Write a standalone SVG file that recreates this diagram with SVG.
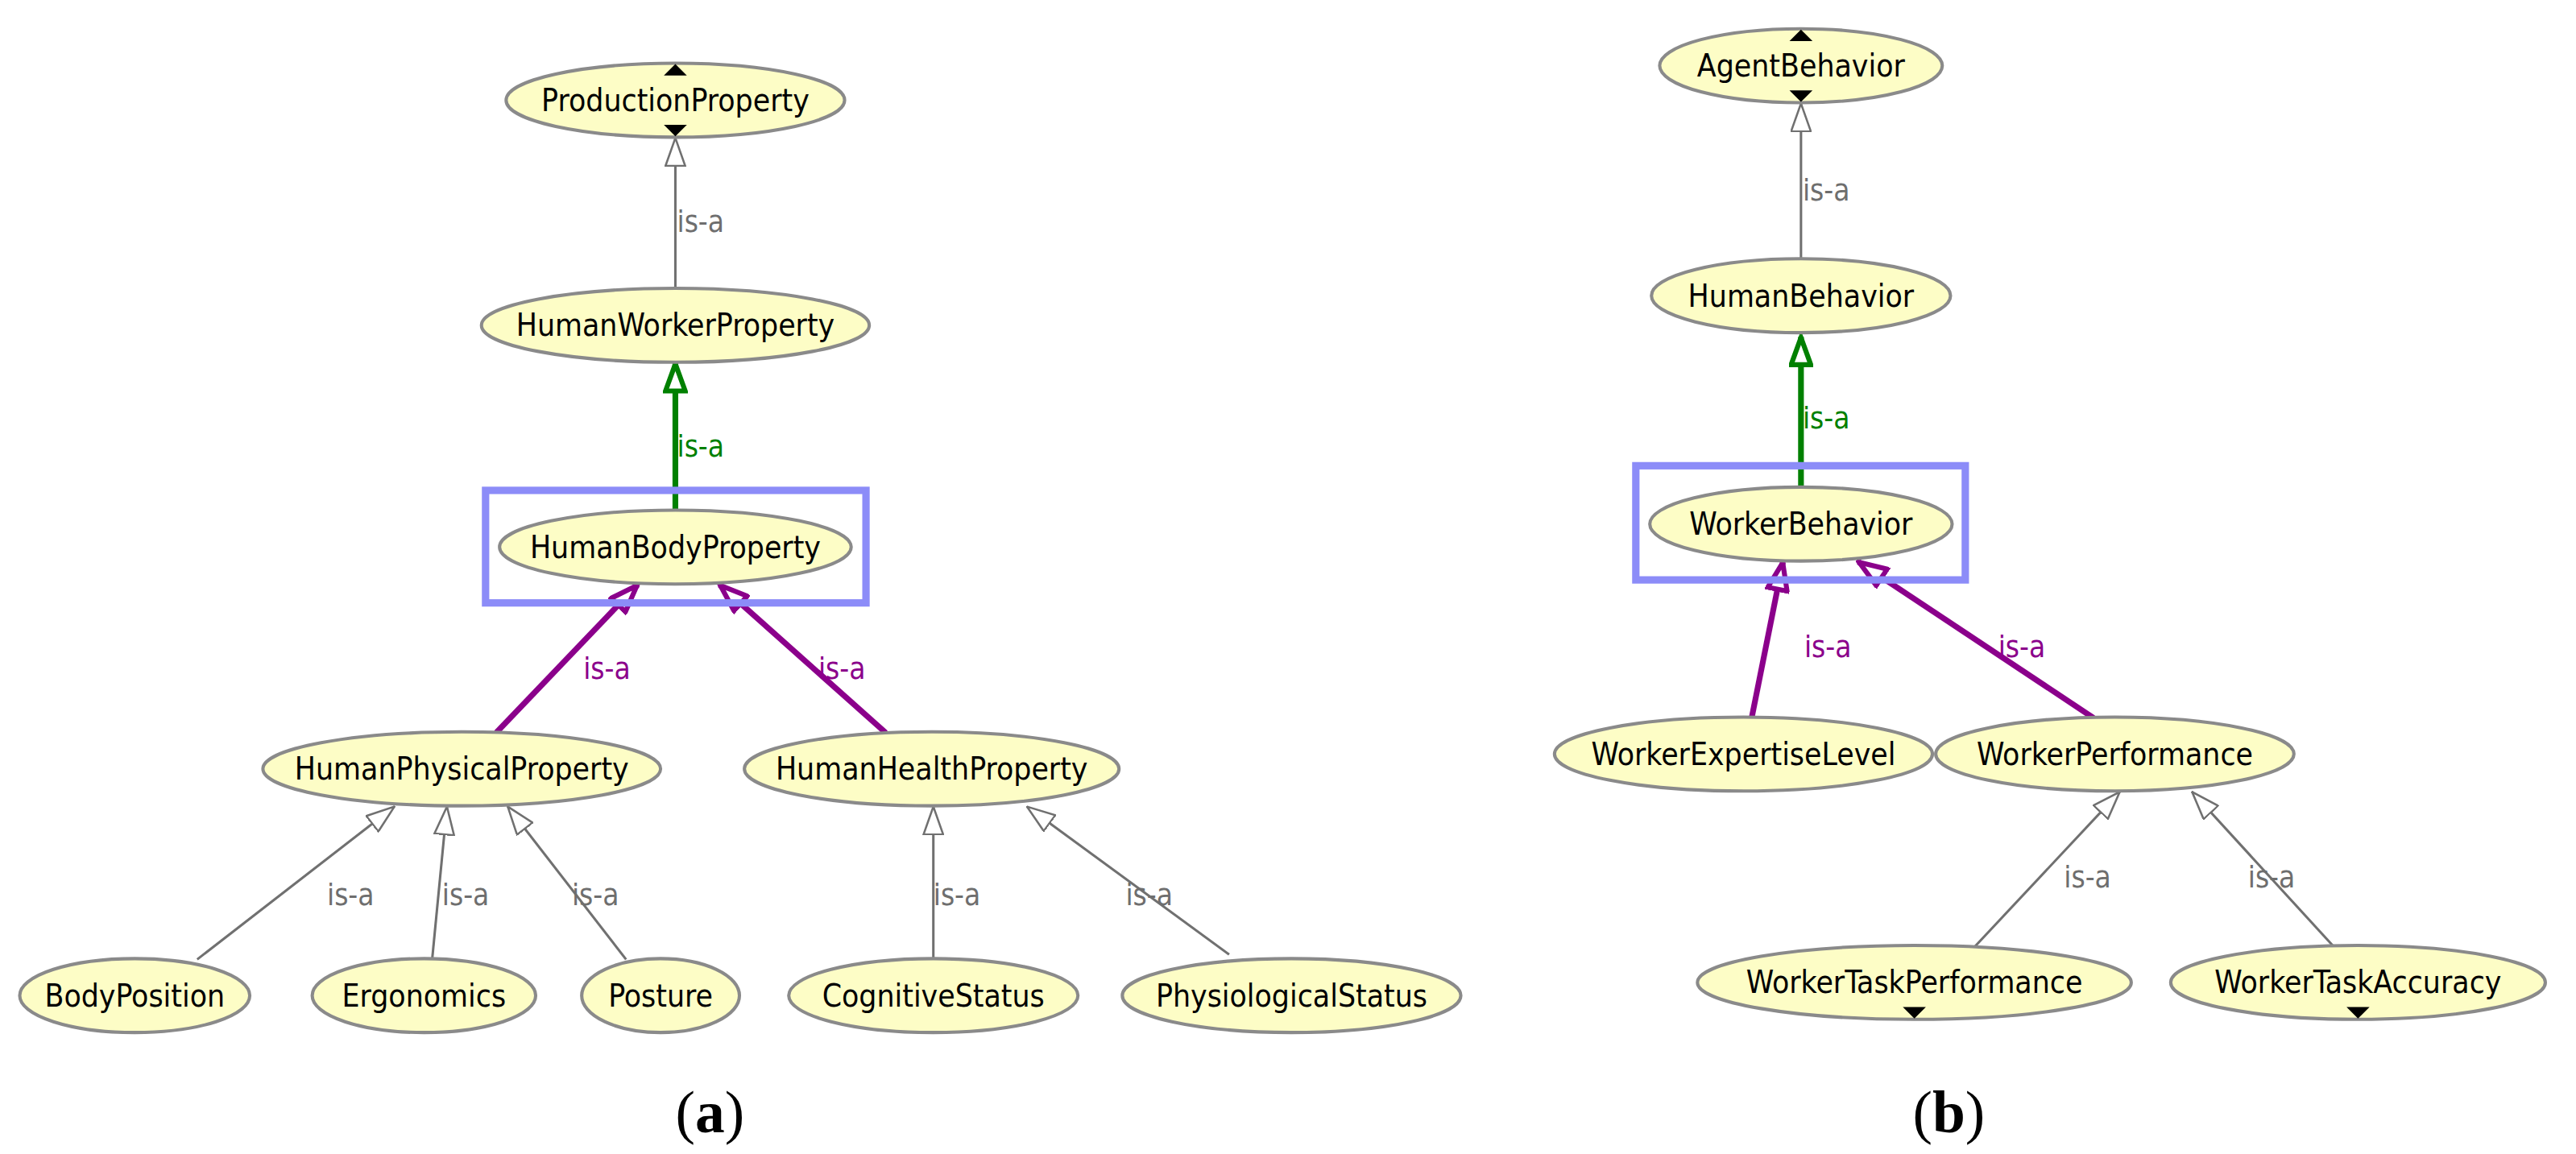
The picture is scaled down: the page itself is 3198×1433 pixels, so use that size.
<svg xmlns="http://www.w3.org/2000/svg" width="3198" height="1433" viewBox="0 0 3198 1433">
<style>
.n ellipse{fill:#fdfdc6;stroke:#8a8a8a;stroke-width:4}
.n text{font-family:"DejaVu Sans Condensed","DejaVu Sans",sans-serif;font-size:38px;fill:#000;text-anchor:middle;dominant-baseline:central}
.g{stroke:#707070;stroke-width:3;fill:none}
.gr{stroke:#008000;stroke-width:7;fill:none}
.pu{stroke:#8b008b;stroke-width:7;fill:none}
.l{font-family:"DejaVu Sans Condensed","DejaVu Sans",sans-serif;font-size:36px}
.lg{fill:#6e6e6e}.lgr{fill:#008000}.lpu{fill:#8b008b}
.box{fill:none;stroke:#8c8cf8;stroke-width:9}
.tri{fill:#000}
.cap{font-family:"Liberation Serif",serif;font-size:72px;text-anchor:middle}
</style>
<defs>
<marker id="ag" markerUnits="userSpaceOnUse" viewBox="0 0 36 26" refX="35" refY="13" markerWidth="36" markerHeight="26" orient="auto"><path d="M1,1 L35,13 L1,25 Z" fill="#fff" stroke="#707070" stroke-width="2.5"/></marker>
<marker id="agr" markerUnits="userSpaceOnUse" viewBox="0 0 40 30" refX="37" refY="15" markerWidth="40" markerHeight="30" orient="auto"><path d="M3,3 L36,15 L3,27 Z" fill="#fff" stroke="#008000" stroke-width="6"/></marker>
<marker id="apu" markerUnits="userSpaceOnUse" viewBox="0 0 40 30" refX="37" refY="15" markerWidth="40" markerHeight="30" orient="auto"><path d="M3,3 L36,15 L3,27 Z" fill="#fff" stroke="#8b008b" stroke-width="6"/></marker>
</defs>
<g transform="scale(1.02)">
<g id="connectors">
<line class="g" x1="822" y1="350" x2="822" y2="168" marker-end="url(#ag)"/>
<line class="gr" x1="822" y1="620" x2="822" y2="442" marker-end="url(#agr)"/>
<line class="pu" x1="604" y1="892" x2="776" y2="712" marker-end="url(#apu)"/>
<line class="pu" x1="1078" y1="892" x2="876" y2="712" marker-end="url(#apu)"/>
<line class="g" x1="240" y1="1168" x2="480" y2="982" marker-end="url(#ag)"/>
<line class="g" x1="526" y1="1168" x2="544" y2="982" marker-end="url(#ag)"/>
<line class="g" x1="762" y1="1168" x2="618" y2="982" marker-end="url(#ag)"/>
<line class="g" x1="1136" y1="1168" x2="1136" y2="982" marker-end="url(#ag)"/>
<line class="g" x1="1496" y1="1162" x2="1250" y2="982" marker-end="url(#ag)"/>
<line class="g" x1="2192" y1="316" x2="2192" y2="126" marker-end="url(#ag)"/>
<line class="gr" x1="2192" y1="592" x2="2192" y2="410" marker-end="url(#agr)"/>
<line class="pu" x1="2132" y1="874" x2="2170" y2="684" marker-end="url(#apu)"/>
<line class="pu" x1="2548" y1="874" x2="2262" y2="684" marker-end="url(#apu)"/>
<line class="g" x1="2404" y1="1152" x2="2580" y2="964" marker-end="url(#ag)"/>
<line class="g" x1="2840" y1="1152" x2="2668" y2="964" marker-end="url(#ag)"/>
<text class="l lg" x="824" y="282">is-a</text>
<text class="l lgr" x="824" y="556">is-a</text>
<text class="l lpu" x="710" y="826">is-a</text>
<text class="l lpu" x="996" y="826">is-a</text>
<text class="l lg" x="398" y="1102">is-a</text>
<text class="l lg" x="538" y="1102">is-a</text>
<text class="l lg" x="696" y="1102">is-a</text>
<text class="l lg" x="1136" y="1102">is-a</text>
<text class="l lg" x="1370" y="1102">is-a</text>
<text class="l lg" x="2194" y="244">is-a</text>
<text class="l lgr" x="2194" y="522">is-a</text>
<text class="l lpu" x="2196" y="800">is-a</text>
<text class="l lpu" x="2432" y="800">is-a</text>
<text class="l lg" x="2512" y="1080">is-a</text>
<text class="l lg" x="2736" y="1080">is-a</text>
</g>
<rect class="box" x="591" y="597" width="463" height="137"/>
<rect class="box" x="1991" y="567" width="401" height="139"/>
<g id="ProductionProperty" class="n"><ellipse cx="822" cy="122" rx="206" ry="45"/><text x="822" y="122">ProductionProperty</text><path class="tri" d="M808,92 L836,92 L822,78 Z"/><path class="tri" d="M808,152 L836,152 L822,166 Z"/></g>
<g id="HumanWorkerProperty" class="n"><ellipse cx="822" cy="396" rx="236" ry="45"/><text x="822" y="396">HumanWorkerProperty</text></g>
<g id="HumanBodyProperty" class="n"><ellipse cx="822" cy="666" rx="214" ry="45"/><text x="822" y="666">HumanBodyProperty</text></g>
<g id="HumanPhysicalProperty" class="n"><ellipse cx="562" cy="936" rx="242" ry="45"/><text x="562" y="936">HumanPhysicalProperty</text></g>
<g id="HumanHealthProperty" class="n"><ellipse cx="1134" cy="936" rx="228" ry="45"/><text x="1134" y="936">HumanHealthProperty</text></g>
<g id="BodyPosition" class="n"><ellipse cx="164" cy="1212" rx="140" ry="45"/><text x="164" y="1212">BodyPosition</text></g>
<g id="Ergonomics" class="n"><ellipse cx="516" cy="1212" rx="136" ry="45"/><text x="516" y="1212">Ergonomics</text></g>
<g id="Posture" class="n"><ellipse cx="804" cy="1212" rx="96" ry="45"/><text x="804" y="1212">Posture</text></g>
<g id="CognitiveStatus" class="n"><ellipse cx="1136" cy="1212" rx="176" ry="45"/><text x="1136" y="1212">CognitiveStatus</text></g>
<g id="PhysiologicalStatus" class="n"><ellipse cx="1572" cy="1212" rx="206" ry="45"/><text x="1572" y="1212">PhysiologicalStatus</text></g>
<g id="AgentBehavior" class="n"><ellipse cx="2192" cy="80" rx="172" ry="45"/><text x="2192" y="80">AgentBehavior</text><path class="tri" d="M2178,50 L2206,50 L2192,36 Z"/><path class="tri" d="M2178,110 L2206,110 L2192,124 Z"/></g>
<g id="HumanBehavior" class="n"><ellipse cx="2192" cy="360" rx="182" ry="45"/><text x="2192" y="360">HumanBehavior</text></g>
<g id="WorkerBehavior" class="n"><ellipse cx="2192" cy="638" rx="184" ry="45"/><text x="2192" y="638">WorkerBehavior</text></g>
<g id="WorkerExpertiseLevel" class="n"><ellipse cx="2122" cy="918" rx="230" ry="45"/><text x="2122" y="918">WorkerExpertiseLevel</text></g>
<g id="WorkerPerformance" class="n"><ellipse cx="2574" cy="918" rx="218" ry="45"/><text x="2574" y="918">WorkerPerformance</text></g>
<g id="WorkerTaskPerformance" class="n"><ellipse cx="2330" cy="1196" rx="264" ry="45"/><text x="2330" y="1196">WorkerTaskPerformance</text><path class="tri" d="M2316,1226 L2344,1226 L2330,1240 Z"/></g>
<g id="WorkerTaskAccuracy" class="n"><ellipse cx="2870" cy="1196" rx="228" ry="45"/><text x="2870" y="1196">WorkerTaskAccuracy</text><path class="tri" d="M2856,1226 L2884,1226 L2870,1240 Z"/></g>
<text class="cap" x="864" y="1378">(<tspan font-weight="bold">a</tspan>)</text>
<text class="cap" x="2372" y="1378">(<tspan font-weight="bold">b</tspan>)</text>
</g>
</svg>
